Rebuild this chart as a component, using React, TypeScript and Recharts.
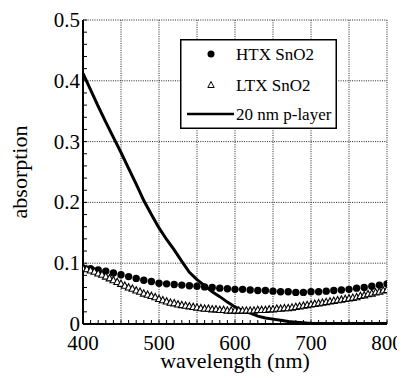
import React from 'react';
import { LineChart, Line, XAxis, YAxis, CartesianGrid, Legend } from 'recharts';

const wl10 = [400, 410, 420, 430, 440, 450, 460, 470, 480, 490, 500, 510, 520, 530, 540, 550, 560, 570, 580, 590, 600, 610, 620, 630, 640, 650, 660, 670, 680, 690, 700, 710, 720, 730, 740, 750, 760, 770, 780, 790, 800];
const wl5 = [400, 405, 410, 415, 420, 425, 430, 435, 440, 445, 450, 455, 460, 465, 470, 475, 480, 485, 490, 495, 500, 505, 510, 515, 520, 525, 530, 535, 540, 545, 550, 555, 560, 565, 570, 575, 580, 585, 590, 595, 600, 605, 610, 615, 620, 625, 630, 635, 640, 645, 650, 655, 660, 665, 670, 675, 680, 685, 690, 695, 700, 705, 710, 715, 720, 725, 730, 735, 740, 745, 750, 755, 760, 765, 770, 775, 780, 785, 790, 795, 800];

const htxSnO2 = [0.092, 0.091, 0.089, 0.087, 0.084, 0.081, 0.078, 0.075, 0.072, 0.070, 0.067, 0.066, 0.065, 0.064, 0.063, 0.062, 0.061, 0.060, 0.059, 0.058, 0.057, 0.057, 0.056, 0.055, 0.055, 0.054, 0.053, 0.053, 0.052, 0.052, 0.053, 0.053, 0.054, 0.055, 0.056, 0.057, 0.059, 0.060, 0.062, 0.064, 0.066];

const ltxSnO2 = [0.091, 0.090, 0.088, 0.086, 0.083, 0.081, 0.078, 0.075, 0.072, 0.069, 0.066, 0.063, 0.060, 0.058, 0.055, 0.053, 0.050, 0.048, 0.046, 0.044, 0.041, 0.039, 0.037, 0.035, 0.034, 0.032, 0.031, 0.030, 0.029, 0.028, 0.027, 0.026, 0.025, 0.025, 0.024, 0.024, 0.023, 0.023, 0.022, 0.022, 0.022, 0.022, 0.022, 0.022, 0.022, 0.022, 0.023, 0.023, 0.023, 0.024, 0.024, 0.025, 0.025, 0.026, 0.026, 0.027, 0.028, 0.029, 0.030, 0.031, 0.032, 0.033, 0.034, 0.035, 0.036, 0.037, 0.038, 0.039, 0.040, 0.041, 0.042, 0.043, 0.044, 0.046, 0.047, 0.049, 0.050, 0.052, 0.053, 0.055, 0.056];

const pLayer20nm = [0.412, 0.385, 0.358, 0.332, 0.307, 0.282, 0.256, 0.230, 0.203, 0.180, 0.158, 0.139, 0.122, 0.103, 0.085, 0.073, 0.063, 0.053, 0.045, 0.036, 0.028, 0.022, 0.018, 0.013, 0.010, 0.008, 0.006, 0.004, 0.003, 0.002, 0.001, 0.001, 0.001, 0.001, 0.001, 0.001, 0.001, 0.001, 0.001, 0.001, 0.001];

const xLabelTicks = [400, 500, 600, 700, 800];
const xGridTicks = [400, 450, 500, 550, 600, 650, 700, 750, 800];
const xMinorTicks = wl10;
const yLabelTicks = [0, 0.1, 0.2, 0.3, 0.4, 0.5];
const yMinorTicks = [0, 0.02, 0.04, 0.06, 0.08, 0.1, 0.12, 0.14, 0.16, 0.18, 0.2, 0.22, 0.24, 0.26, 0.28, 0.3, 0.32, 0.34, 0.36, 0.38, 0.4, 0.42, 0.44, 0.46, 0.48, 0.5];

const seriesNames = ['HTX SnO2', 'LTX SnO2', '20 nm p-layer'];

const htxData = wl10.map((x, i) => ({ x, y: htxSnO2[i] }));
const ltxData = wl5.map((x, i) => ({ x, y: ltxSnO2[i] }));
const pData = wl10.map((x, i) => ({ x, y: pLayer20nm[i] }));

const FONT = "'Liberation Serif', 'Times New Roman', Times, 'DejaVu Serif', serif";

const CircleDot = (props: any) => {
  const { cx, cy, index } = props;
  if (cx == null || cy == null) return <g key={`c${index}`} />;
  return <circle key={`c${index}`} cx={cx} cy={cy} r={3.7} fill="#000" stroke="none" />;
};

const TriDot = (props: any) => {
  const { cx, cy, index } = props;
  if (cx == null || cy == null) return <g key={`t${index}`} />;
  const pts = `${cx},${cy - 3.8} ${cx - 3.4},${cy + 2.5} ${cx + 3.4},${cy + 2.5}`;
  return <polygon key={`t${index}`} points={pts} fill="#fff" stroke="#000" strokeWidth={1.1} />;
};

const LegendBox = () => (
  <svg width={157} height={90} style={{ display: 'block' }}>
    <rect x={0.75} y={0.75} width={155.5} height={88.5} fill="#fff" stroke="#000" strokeWidth={1.5} />
    <circle cx={31} cy={15} r={3.5} fill="#000" />
    <polygon points="31,42.5 27.8,48.5 34.2,48.5" fill="#fff" stroke="#000" strokeWidth={1} />
    <line x1={7} y1={75} x2={54} y2={75} stroke="#000" strokeWidth={2.5} />
    <text x={56} y={21} style={{ fontFamily: FONT, fontSize: 17 }} fill="#000">{seriesNames[0]}</text>
    <text x={56} y={52} style={{ fontFamily: FONT, fontSize: 17 }} fill="#000">{seriesNames[1]}</text>
    <text x={56} y={81} style={{ fontFamily: FONT, fontSize: 17 }} fill="#000">{seriesNames[2]}</text>
  </svg>
);

const axisLineStyle = { stroke: '#000', strokeWidth: 2 };
const tickLineStyle = { stroke: '#000', strokeWidth: 1 };

const XTick = (props: any) => {
  const { x, y, payload } = props;
  const v = payload.value;
  if (!xLabelTicks.includes(v)) return <g />;
  return (
    <text x={x} y={y} dy={15} textAnchor="middle" style={{ fontFamily: FONT, fontSize: 21 }} fill="#000">
      {String(v)}
    </text>
  );
};

const YTick = (props: any) => {
  const { x, y, payload } = props;
  const r = Math.round(payload.value * 100);
  if (r % 10 !== 0) return <g />;
  return (
    <text x={x} y={y} dy={7} textAnchor="end" style={{ fontFamily: FONT, fontSize: 21 }} fill="#000">
      {String(r / 100)}
    </text>
  );
};

const XLabel = (props: any) => {
  const vb = props.viewBox || { x: 75, y: 315.5, width: 304, height: 54 };
  return (
    <text x={vb.x + vb.width / 2} y={vb.y + 44} textAnchor="middle" style={{ fontFamily: FONT, fontSize: 22 }} fill="#000">
      wavelength (nm)
    </text>
  );
};

const YLabel = (props: any) => {
  const vb = props.viewBox || { x: 0, y: 12, width: 75, height: 303.5 };
  const cx = 11;
  const cy = vb.y + vb.height / 2;
  return (
    <text
      x={cx}
      y={cy}
      textAnchor="middle"
      dominantBaseline="central"
      transform={`rotate(-90, ${cx}, ${cy})`}
      style={{ fontFamily: FONT, fontSize: 22 }}
      fill="#000"
    >
      absorption
    </text>
  );
};

export default function App() {
  return (
    <div style={{ width: 400, height: 370, background: '#fff' }}>
      <style>{'html, body { overflow: hidden; }'}</style>
      <LineChart width={400} height={370} margin={{ top: 12, right: 21, bottom: 0, left: 0 }}>
        <XAxis
          xAxisId="g"
          type="number"
          dataKey="x"
          domain={[400, 800]}
          ticks={xGridTicks}
          interval={0}
          hide
          allowDataOverflow
        />
        <YAxis
          yAxisId="g"
          type="number"
          domain={[0, 0.5]}
          ticks={yLabelTicks}
          interval={0}
          hide
          allowDataOverflow
        />
        <CartesianGrid xAxisId="g" yAxisId="g" stroke="#222" strokeDasharray="1 1.3" strokeWidth={1} />
        <XAxis
          type="number"
          dataKey="x"
          domain={[400, 800]}
          ticks={xMinorTicks}
          interval={0}
          tick={<XTick />}
          tickSize={-4}
          tickMargin={15}
          axisLine={axisLineStyle}
          tickLine={tickLineStyle}
          height={54}
          allowDataOverflow
          label={<XLabel />}
        />
        <XAxis
          xAxisId="t"
          orientation="top"
          type="number"
          dataKey="x"
          domain={[400, 800]}
          ticks={xMinorTicks}
          interval={0}
          tick={() => <g />}
          tickSize={-4}
          axisLine={axisLineStyle}
          tickLine={tickLineStyle}
          height={0}
          allowDataOverflow
        />
        <YAxis
          type="number"
          domain={[0, 0.5]}
          ticks={yMinorTicks}
          interval={0}
          tick={<YTick />}
          tickSize={-4}
          tickMargin={7}
          axisLine={axisLineStyle}
          tickLine={tickLineStyle}
          width={75}
          allowDataOverflow
          label={<YLabel />}
        />
        <YAxis
          yAxisId="r"
          orientation="right"
          type="number"
          domain={[0, 0.5]}
          ticks={yMinorTicks}
          interval={0}
          tick={() => <g />}
          tickSize={-4}
          axisLine={axisLineStyle}
          tickLine={tickLineStyle}
          width={0}
          allowDataOverflow
        />
        <Line
          data={htxData}
          dataKey="y"
          name={seriesNames[0]}
          stroke="none"
          dot={CircleDot}
          activeDot={false}
          isAnimationActive={false}
        />
        <Line
          data={ltxData}
          dataKey="y"
          name={seriesNames[1]}
          stroke="none"
          dot={TriDot}
          activeDot={false}
          isAnimationActive={false}
        />
        <Line
          data={pData}
          dataKey="y"
          name={seriesNames[2]}
          type="linear"
          stroke="#000"
          strokeWidth={3}
          dot={false}
          activeDot={false}
          isAnimationActive={false}
        />
        <Legend
          layout="vertical"
          align="center"
          verticalAlign="middle"
          content={<LegendBox />}
          wrapperStyle={{ position: 'absolute', left: 172, top: 31, width: 157, height: 90 }}
        />
      </LineChart>
    </div>
  );
}
